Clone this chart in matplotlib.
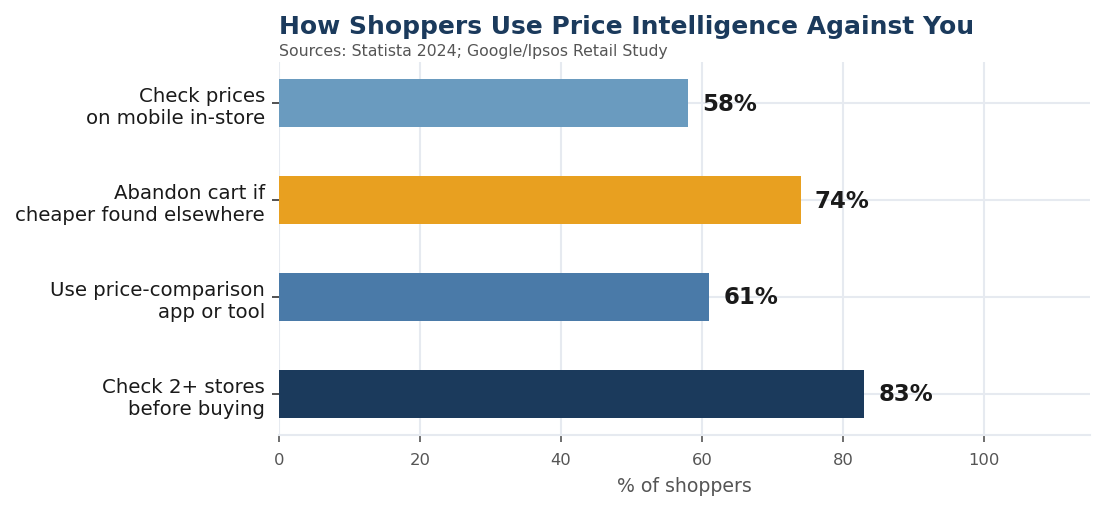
import matplotlib
matplotlib.use("Agg")
import matplotlib.pyplot as plt

# Data (bottom to top)
categories = [
    "Check 2+ stores\nbefore buying",
    "Use price-comparison\napp or tool",
    "Abandon cart if\ncheaper found elsewhere",
    "Check prices\non mobile in-store",
]
values = [83, 61, 74, 58]
colors = ["#1b3a5c", "#4a7aa8", "#e8a020", "#6a9bbf"]
xticks = [0, 20, 40, 60, 80, 100]

fig = plt.figure(figsize=(11.05, 5.1), dpi=100)
ax = fig.add_axes([279 / 1105, 1 - 436 / 510, (1090 - 279) / 1105, (436 - 63) / 510])

ypos = range(len(categories))
ax.barh(ypos, values, height=0.5, color=colors, zorder=3)

for y, v in zip(ypos, values):
    ax.text(v + 2, y, f"{v}%", va="center", ha="left",
            fontsize=16.5, fontweight="bold", color="#1a1a1a", zorder=4)

ax.set_xlim(0, 115)
ax.set_xticks(xticks)
ax.set_yticks(list(ypos))
ax.set_yticklabels(categories, fontsize=14.2, color="#1a1a1a")
ax.tick_params(axis="x", labelsize=11.8, colors="#555555", length=5, width=1.2, pad=7)
ax.tick_params(axis="y", length=5, width=1.2, colors="#333333", pad=5)
for lbl in ax.get_yticklabels():
    lbl.set_color("#1a1a1a")
for lbl in ax.get_xticklabels():
    lbl.set_color("#555555")

ax.grid(True, color="#e6eaf0", linewidth=1.5, zorder=0)
for side in ["top", "right", "left"]:
    ax.spines[side].set_visible(False)
ax.spines["bottom"].set_color("#e6eaf0")
ax.spines["bottom"].set_linewidth(1.5)

ax.set_xlabel("% of shoppers", fontsize=13.6, color="#555555", labelpad=7)

fig.text(279 / 1105, 1 - 27 / 510, "How Shoppers Use Price Intelligence Against You",
         fontsize=18, fontweight="bold", color="#1b3a5c", ha="left", va="center")
fig.text(279 / 1105, 1 - 51.5 / 510, "Sources: Statista 2024; Google/Ipsos Retail Study",
         fontsize=11.3, color="#555555", ha="left", va="center")

plt.savefig("out.png", dpi=100)
